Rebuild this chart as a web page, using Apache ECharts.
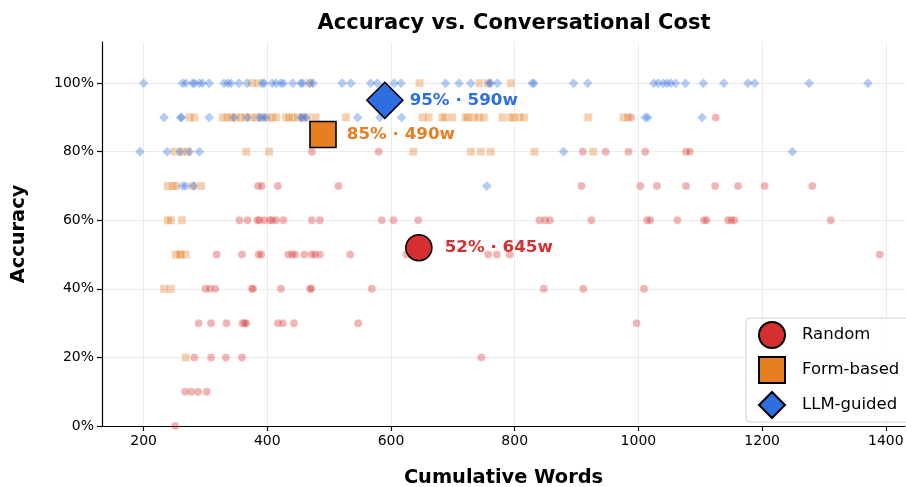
<!DOCTYPE html>
<html>
<head>
<meta charset="utf-8">
<script src="https://cdn.jsdelivr.net/npm/echarts@6/dist/echarts.min.js"></script>
<style>
  html, body { margin: 0; padding: 0; background: #fff; }
  #chart { width: 906px; height: 487px; }
</style>
</head>
<body>
<div id="chart"></div>
<script>
// ticks
var xTicks = [200, 400, 600, 800, 1000, 1200, 1400]
var yTicks = [0, 20, 40, 60, 80, 100]

// single runs: [cumulative words, accuracy %]
var randomRuns = [
  [988, 90], [1125, 90],
  [472, 80], [580, 80], [910, 80], [947, 80], [984, 80], [1011, 80], [1077, 80], [1083, 80],
  [385, 70], [391, 70], [417, 70], [515, 70], [908, 70], [1003, 70], [1030, 70], [1077, 70], [1124, 70], [1161, 70], [1204, 70], [1281, 70],
  [355, 60], [368, 60], [384, 60], [387, 60], [395, 60], [404, 60], [408, 60], [414, 60], [426, 60], [472, 60], [485, 60], [585, 60], [604, 60], [644, 60],
  [840, 60], [849, 60], [857, 60], [924, 60], [1014, 60], [1019, 60], [1063, 60], [1106, 60], [1110, 60], [1145, 60], [1150, 60], [1155, 60], [1311, 60],
  [318, 50], [359, 50], [386, 50], [390, 50], [434, 50], [440, 50], [445, 50], [460, 50], [472, 50], [477, 50], [485, 50], [534, 50], [625, 50], [757, 50], [771, 50], [792, 50], [1390, 50],
  [300, 40], [307, 40], [316, 40], [375, 40], [377, 40], [422, 40], [469, 40], [471, 40], [569, 40], [847, 40], [911, 40], [1009, 40],
  [289, 30], [309, 30], [334, 30], [360, 30], [363, 30], [366, 30], [417, 30], [425, 30], [443, 30], [547, 30], [997, 30],
  [282, 20], [309, 20], [333, 20], [359, 20], [746, 20],
  [267, 10], [277, 10], [288, 10], [302, 10],
  [251, 0]
]
var formRuns = [
  [375, 100], [385, 100], [468, 100], [646, 100], [743, 100], [757, 100], [794, 100],
  [274, 90], [282, 90], [328, 90], [335, 90], [341, 90], [349, 90], [357, 90], [364, 90], [374, 90], [382, 90], [390, 90], [400, 90], [408, 90], [414, 90],
  [430, 90], [435, 90], [441, 90], [449, 90], [457, 90], [465, 90], [478, 90], [527, 90], [651, 90], [661, 90], [683, 90], [687, 90], [699, 90], [721, 90],
  [724, 90], [734, 90], [742, 90], [750, 90], [780, 90], [793, 90], [798, 90], [807, 90], [815, 90], [919, 90], [976, 90], [983, 90],
  [250, 80], [262, 80], [271, 80], [366, 80], [403, 80], [636, 80], [729, 80], [745, 80], [761, 80], [832, 80], [927, 80],
  [239, 70], [247, 70], [252, 70], [279, 70], [293, 70],
  [239, 60], [244, 60], [262, 60],
  [252, 50], [258, 50], [260, 50], [268, 50],
  [233, 40], [244, 40],
  [268, 20]
]
var llmRuns = [
  [200, 100], [263, 100], [268, 100], [279, 100], [282, 100], [290, 100], [295, 100], [306, 100], [330, 100], [336, 100], [341, 100], [354, 100], [367, 100],
  [392, 100], [395, 100], [408, 100], [414, 100], [422, 100], [426, 100], [441, 100], [454, 100], [457, 100], [469, 100], [474, 100], [521, 100], [535, 100],
  [567, 100], [578, 100], [605, 100], [616, 100], [688, 100], [710, 100], [729, 100], [758, 100], [761, 100], [772, 100], [828, 100], [831, 100], [895, 100],
  [918, 100], [1025, 100], [1032, 100], [1040, 100], [1046, 100], [1052, 100], [1060, 100], [1076, 100], [1105, 100], [1138, 100], [1177, 100], [1188, 100],
  [1276, 100], [1371, 100],
  [233, 90], [260, 90], [261, 90], [306, 90], [346, 90], [368, 90], [387, 90], [392, 90], [397, 90], [454, 90], [457, 90], [462, 90], [546, 90], [582, 90],
  [617, 90], [1011, 90], [1015, 90], [1103, 90],
  [194, 80], [238, 80], [259, 80], [274, 80], [290, 80], [879, 80], [1249, 80],
  [263, 70], [268, 70], [281, 70], [755, 70]
]

// method means
var methods = ['Random', 'Form-based', 'LLM-guided']
var meanWords = [645, 490, 590]
var meanAcc = [52, 85, 95]
var colors = ['#d62f2f', '#e67e22', '#2e6ee0']
var symbols = ['circle', 'rect', 'diamond']
var meanSizes = [26, 26, 36]
var smallSizes = [8, 8, 10]
var labelGaps = [12, 10, 6]

var myChart = echarts.init(document.getElementById('chart'))
var font = 'DejaVu Sans'

var series = []
var runs = [randomRuns, formRuns, llmRuns]
runs.forEach(function (r, i) {
  series.push({
    name: methods[i] + ' runs',
    type: 'scatter',
    data: r,
    symbol: symbols[i],
    symbolSize: smallSizes[i],
    itemStyle: { color: colors[i], opacity: 0.36, borderColor: '#fff', borderWidth: 0.6 },
    emphasis: { disabled: true },
    z: 2
  })
})
methods.forEach(function (m, i) {
  series.push({
    name: m,
    type: 'scatter',
    data: [[meanWords[i], meanAcc[i]]],
    symbol: symbols[i],
    symbolSize: meanSizes[i],
    itemStyle: { color: colors[i], opacity: 1, borderColor: '#000', borderWidth: 1.6 },
    label: {
      show: true,
      position: 'right',
      distance: labelGaps[i],
      formatter: meanAcc[i] + '% · ' + meanWords[i] + 'w',
      color: colors[i],
      fontFamily: font,
      fontWeight: 'bold',
      fontSize: 16.7
    },
    emphasis: { disabled: true },
    z: 5
  })
})

var option = {
  animation: false,
  backgroundColor: '#fff',
  title: {
    text: 'Accuracy vs. Conversational Cost',
    left: 509,
    textAlign: 'center',
    top: 8,
    textStyle: { fontFamily: font, fontWeight: 'bold', fontSize: 21, color: '#000' }
  },
  legend: {
    data: methods,
    orient: 'vertical',
    left: 746,
    top: 318,
    padding: [3, 24, 3, 12],
    itemWidth: 26,
    itemHeight: 26,
    itemGap: 7,
    backgroundColor: 'rgba(255,255,255,0.85)',
    borderColor: '#d0d0d0',
    borderWidth: 1,
    borderRadius: 4,
    textStyle: { fontFamily: font, fontSize: 16.5, color: '#000', padding: [0, 0, 0, 12] }
  },
  grid: { left: 102, right: 1, top: 42, bottom: 61, outerBoundsMode: 'none' },
  xAxis: {
    type: 'value',
    min: 132.7,
    max: 1431,
    name: 'Cumulative Words',
    nameLocation: 'middle',
    nameGap: 42,
    nameTextStyle: { fontFamily: font, fontWeight: 'bold', fontSize: 19.4, color: '#000' },
    axisLine: { lineStyle: { color: '#000', width: 1.2 } },
    axisTick: { show: true, length: 5, customValues: xTicks, lineStyle: { color: '#000', width: 1.2 } },
    axisLabel: {
      customValues: xTicks,
      formatter: function (v) { return String(v) },
      fontFamily: font, fontSize: 14, color: '#000', margin: 8
    },
    splitLine: { show: true, lineStyle: { color: '#ebebeb', width: 1 } }
  },
  yAxis: {
    type: 'value',
    min: 0,
    max: 112,
    name: 'Accuracy',
    nameLocation: 'middle',
    nameGap: 74,
    nameTextStyle: { fontFamily: font, fontWeight: 'bold', fontSize: 19.4, color: '#000' },
    axisLine: { show: true, lineStyle: { color: '#000', width: 1.2 } },
    axisTick: { show: true, length: 5, customValues: yTicks, lineStyle: { color: '#000', width: 1.2 } },
    axisLabel: { customValues: yTicks, formatter: '{value}%', fontFamily: font, fontSize: 14, color: '#000', margin: 8 },
    splitLine: { show: true, lineStyle: { color: '#ebebeb', width: 1 } }
  },
  series: series
}
myChart.setOption(option)
window.addEventListener('resize', function () {
  myChart.resize()
})
</script>
</body>
</html>
